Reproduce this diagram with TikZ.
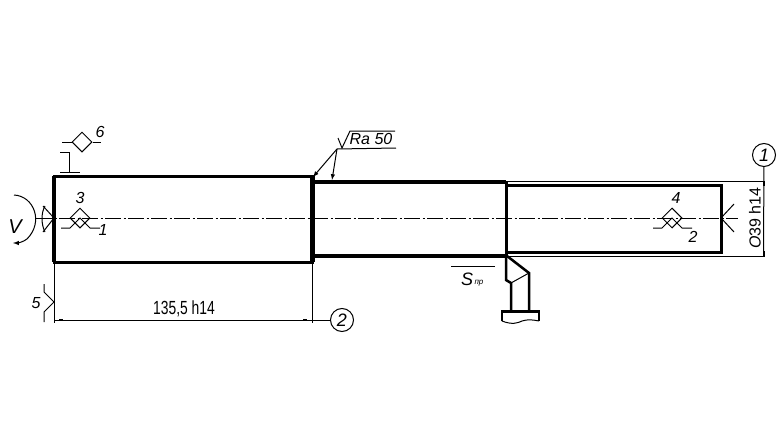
\documentclass[tikz,border=0pt]{standalone}
\usepackage{fontspec}
\setmainfont{Liberation Sans}
\usetikzlibrary{shapes.geometric}
\tikzset{
  thinline/.style={line width=1pt},
  contour/.style={line width=3pt,line cap=rect},
  axisline/.style={line width=1pt,dash pattern=on 16pt off 2.5pt on 2pt off 2.5pt},
  lbl/.style={inner sep=0pt,font=\fontsize{16}{16}\selectfont\itshape},
  dimlbl/.style={inner sep=0pt,font=\fontsize{19}{19}\selectfont},
  markcircle/.style={circle,draw,line width=1pt,inner sep=0pt,minimum size=23pt,font=\fontsize{18}{18}\selectfont\itshape},
  smark/.style={diamond,draw,line width=1pt,inner sep=0pt,minimum size=20pt}
}
\begin{document}
\begin{tikzpicture}[x=1pt,y=-1pt,>=latex]
  \useasboundingbox (0,0) rectangle (780,447);
  % shaft
  \draw[contour] (54,176) rectangle (312,262);
  \draw[line width=4pt] (54,176) -- (54,262);
  \draw[line width=5pt] (312,176) -- (312,262);
  \draw[line width=4pt] (312,182) -- (506,182);
  \draw[line width=4pt] (312,256) -- (506,256);
  \draw[line width=3pt] (506,182) -- (506,256);
  \draw[contour] (506,185) -- (721,185) -- (721,252) -- (506,252);
  \draw[thinline] (506,181) -- (765,181);
  \draw[thinline] (506,256) -- (765,256);
  \draw[axisline] (36,218) -- (738,218);
  % left support and rotation
  \draw[thinline] (43,206) -- (54,218) -- (43,232);
  \draw[thinline] (45,206) .. controls (41,213) and (41,224) .. (45,232);
  \draw[thinline,->] (14,195) .. controls (34,196) and (44,222) .. (27,239) .. controls (23,242) and (18,243) .. (13,243);
  \node[lbl,font=\fontsize{20}{20}\selectfont\itshape] (rot) at (15,227) {V};
  % right support
  \draw[thinline] (734,204) -- (721,218) -- (734,232);
  % marks on the axis
  \foreach \x in {80,672}{
    \node[smark] (m\x) at (\x,218) {};
    \draw[thinline] (\x-19,228) -- (\x-10,228) -- (\x,218) -- (\x+10,228) -- (\x+20,228);
  }
  \node[lbl] (n3) at (80,198) {3};
  \node[lbl] (n1) at (103,230) {1};
  \node[lbl] (n4) at (676,198) {4};
  \node[lbl] (n2) at (693,237) {2};
  % clamp mark 6
  \node[smark] (m6) at (82,142) {};
  \draw[thinline] (62,142) -- (m6.west);
  \draw[thinline] (m6.east) -- (101,142);
  \draw[thinline] (60,152) -- (69,152) -- (69,172);
  \draw[thinline] (60,172) -- (80,172);
  \node[lbl] (n6) at (100,132) {6};
  % mark 5
  \draw[thinline] (44,284) -- (44,292) -- (54,302) -- (44,312) -- (44,322);
  \node[lbl] (n5) at (36,303) {5};
  % length dimension
  \node[markcircle] (c2) at (342,320) {2};
  \draw[thinline] (54,262) -- (54,323);
  \draw[thinline] (312,262) -- (312,323);
  \draw[thinline] (c2) -- (54,320);
  \draw[line width=1.5pt] (59,320) -- (63,320);
  \draw[line width=1.5pt] (303,320) -- (307,320);
  \node[dimlbl,xscale=0.73] (len) at (184,309) {135,5 h14};
  % roughness
  \coordinate (ra) at (337,149);
  \draw[thinline] (338,138) -- (342,148) -- (350,131) -- (395,131);
  \draw[thinline] (396,148) -- (ra);
  \draw[thinline,->] (ra) -- (313,177);
  \draw[thinline,->] (ra) -- (332,180);
  \node[lbl] (rough) at (371,139) {Ra 50};
  % diameter dimension
  \node[markcircle] (c1) at (764,155) {1};
  \draw[thinline] (c1) -- (763.5,256);
  \draw[line width=2pt] (763.5,181) -- (763.5,186);
  \draw[line width=2pt] (763.5,251) -- (763.5,256);
  \node[dimlbl,font=\fontsize{16}{16}\selectfont,rotate=90] (dia) at (755,218) {\itshape O\upshape 39 h14};
  % feed
  \draw[thinline] (495,266) -- (451,266);
  \draw[line width=1.5pt] (455,266.5) -- (460,266.5);
  \node[lbl,font=\fontsize{18}{18}\selectfont\itshape] (feed) at (467,279) {S};
  \node[lbl,font=\fontsize{8}{8}\selectfont\itshape] (feedsub) at (479,283) {пр};
  % cutting tool
  \draw[line width=2.5pt] (507,256) -- (529,273) -- (529,311);
  \draw[line width=2.5pt] (506,256) -- (506,280) -- (511,283) -- (511,311);
  \draw[thinline] (511,283) -- (529,273);
  \draw[line width=2.5pt] (502,321) -- (502,311.5) -- (539,311.5) -- (539,321);
  \draw[thinline] (502,321) .. controls (512,325) and (518,323) .. (522,321) .. controls (528,319) and (534,320) .. (539,321);
\end{tikzpicture}
\end{document}
